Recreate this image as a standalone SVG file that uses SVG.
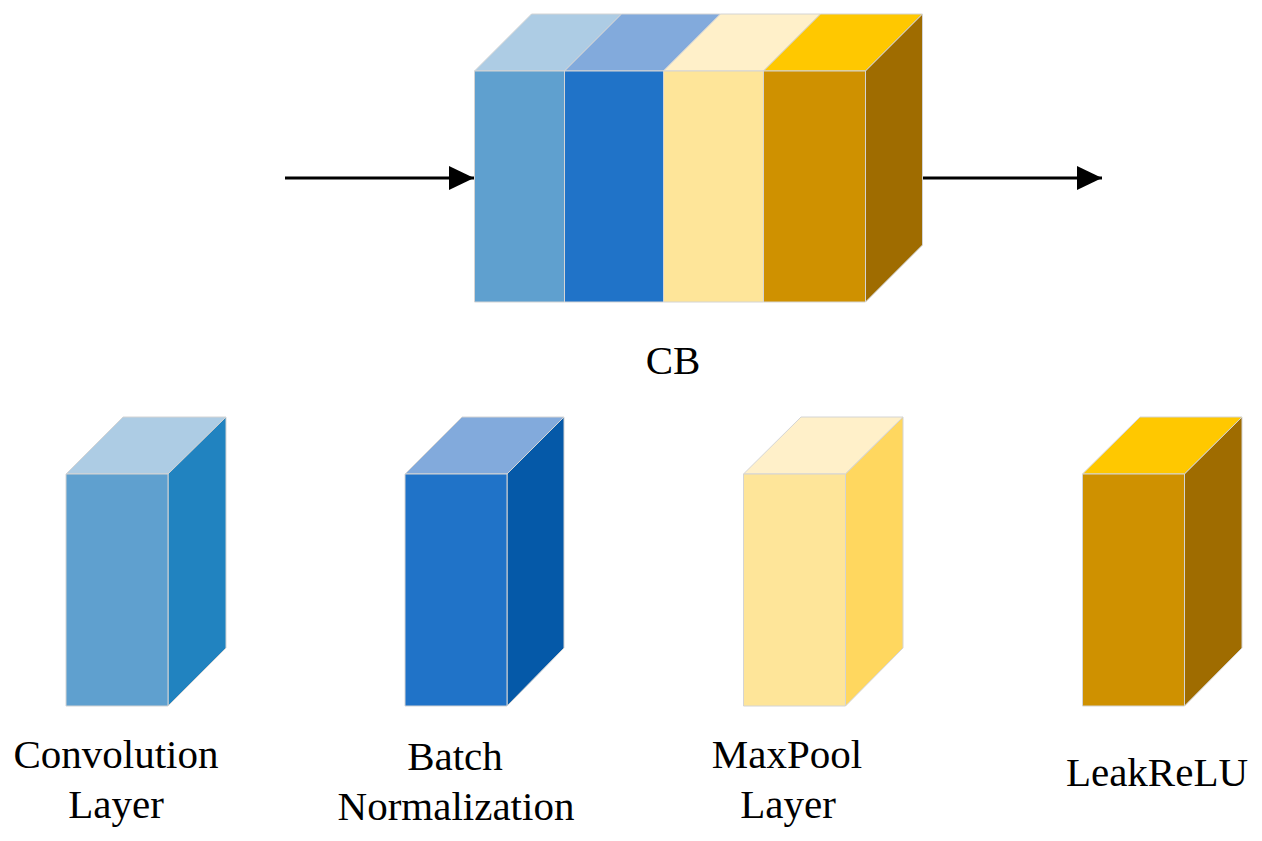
<svg xmlns="http://www.w3.org/2000/svg" width="1262" height="841" viewBox="0 0 1262 841">
<style>
.f{stroke:#d4d4d4;stroke-width:1;stroke-linejoin:round}
.t{font-family:"Liberation Serif","Times New Roman",serif;font-size:41px;fill:#000;text-anchor:middle}
.c1t{fill:#ADCCE4}.c1f{fill:#5FA0CF}.c1s{fill:#2183C0}
.c2t{fill:#82AADC}.c2f{fill:#2073C8}.c2s{fill:#0559A8}
.c3t{fill:#FFF0C9}.c3f{fill:#FEE599}.c3s{fill:#FFD75F}
.c4t{fill:#FFC800}.c4f{fill:#CF9100}.c4s{fill:#9F6C00}
.ln{stroke:#000;stroke-width:3;fill:none}
</style>
<defs>
<marker id="ah" viewBox="0 0 25 24" refX="25" refY="12" markerWidth="25" markerHeight="24" markerUnits="userSpaceOnUse" orient="auto">
<path d="M0,0 L25,12 L0,24 Z" fill="#000"/>
</marker>
</defs>
<rect width="1262" height="841" fill="#fff"/>

<g id="connectors">
<line class="ln" x1="285" y1="178" x2="474" y2="178" marker-end="url(#ah)"/>
<line class="ln" x1="922" y1="178" x2="1102" y2="178" marker-end="url(#ah)"/>
</g>

<g id="cb">
<polygon class="f c1t" points="474.5,71 531.5,14 621.5,14 564.5,71"/>
<polygon class="f c2t" points="564.5,71 621.5,14 720.5,14 663.5,71"/>
<polygon class="f c3t" points="663.5,71 720.5,14 820.5,14 763.5,71"/>
<polygon class="f c4t" points="763.5,71 820.5,14 922.5,14 865.5,71"/>
<polygon class="f c4s" points="865.5,71 922.5,14 922.5,245 865.5,302"/>
<rect class="f c1f" x="474.5" y="71" width="90" height="231"/>
<rect class="f c2f" x="564.5" y="71" width="99" height="231"/>
<rect class="f c3f" x="663.5" y="71" width="100" height="231"/>
<rect class="f c4f" x="763.5" y="71" width="102" height="231"/>
<text class="t" x="673" y="374">CB</text>
</g>

<g id="conv">
<polygon class="f c1t" points="66,474 123,417 226,417 168,474"/>
<polygon class="f c1s" points="168,474 226,417 226,648 168,706"/>
<rect class="f c1f" x="66" y="474" width="102" height="232"/>
<text class="t" x="116" y="768">Convolution</text>
<text class="t" x="116" y="818">Layer</text>
</g>

<g id="bn">
<polygon class="f c2t" points="405,474 462,417 564,417 507,474"/>
<polygon class="f c2s" points="507,474 564,417 564,648 507,706"/>
<rect class="f c2f" x="405" y="474" width="102" height="232"/>
<text class="t" x="455" y="770">Batch</text>
<text class="t" x="456" y="820">Normalization</text>
</g>

<g id="maxpool">
<polygon class="f c3t" points="743.5,474 801,417 903,417 845.5,474"/>
<polygon class="f c3s" points="845.5,474 903,417 903,648 845.5,706"/>
<rect class="f c3f" x="743.5" y="474" width="102" height="232"/>
<text class="t" x="787" y="768">MaxPool</text>
<text class="t" x="788" y="818">Layer</text>
</g>

<g id="leakrelu">
<polygon class="f c4t" points="1082.5,474 1140,417 1242,417 1184.5,474"/>
<polygon class="f c4s" points="1184.5,474 1242,417 1242,648 1184.5,706"/>
<rect class="f c4f" x="1082.5" y="474" width="102" height="232"/>
<text class="t" x="1157" y="786">LeakReLU</text>
</g>
</svg>
